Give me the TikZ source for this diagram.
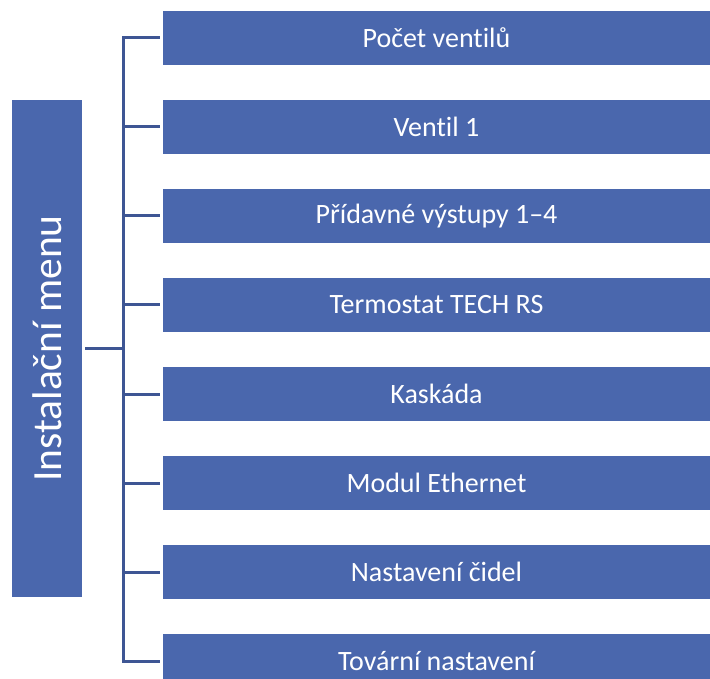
\documentclass[tikz,border=0pt]{standalone}
\usepackage{fontspec}
\setmainfont{Carlito}[Ligatures=NoCommon]
\usepackage{tikz}
\usetikzlibrary{positioning}
\definecolor{menublue}{HTML}{4A67AD}
\definecolor{linkblue}{HTML}{3E5694}

\begin{document}
\begin{tikzpicture}[node distance=34.6pt,line join=miter]
\tikzstyle{item node}=[rectangle,fill=menublue,text=white,minimum width=547pt,minimum height=54pt,inner sep=0,font=\fontsize{28}{33}\selectfont]
\tikzstyle{main node}=[rectangle,fill=menublue,text=white,minimum width=70pt,minimum height=497pt,inner sep=0,font=\fontsize{41.5}{48}\selectfont]

\tikzset{
	link/.style={draw=linkblue,line width=3pt}
}
    \useasboundingbox (0,0) rectangle (710pt,-679pt);

    \node[main node] (M) at (47pt,-348.5pt) {\rotatebox{90}{Instalační menu}};
    \coordinate (j) at (123pt,-348.5pt);

    \node[item node] (pv) at (436.5pt,-38pt) {Počet ventilů};
    \node[item node] (v1) [below=of pv] {Ventil 1};
    \node[item node] (pd) [below=of v1] {Přídavné výstupy 1–4};
    \node[item node] (tr) [below=of pd] {Termostat TECH RS};
    \node[item node] (ka) [below=of tr] {Kaskáda};
    \node[item node] (me) [below=of ka] {Modul Ethernet};
    \node[item node] (nc) [below=of me] {Nastavení čidel};
    \node[item node] (tn) [below=of nc] {Tovární nastavení};

    \draw[link,shorten <=3pt] (M.east) -- (j);
    \draw[link,shorten <=3pt,shorten >=3pt] (pv.west) -- (pv.west -| j) -- (tn.west -| j) -- (tn.west);
    \path[link,shorten >=3pt] (v1.west -| j) edge (v1.west)
		(pd.west -| j) edge (pd.west)
		(tr.west -| j) edge (tr.west)
		(ka.west -| j) edge (ka.west)
		(me.west -| j) edge (me.west)
		(nc.west -| j) edge (nc.west)
;
\end{tikzpicture}
\end{document}
